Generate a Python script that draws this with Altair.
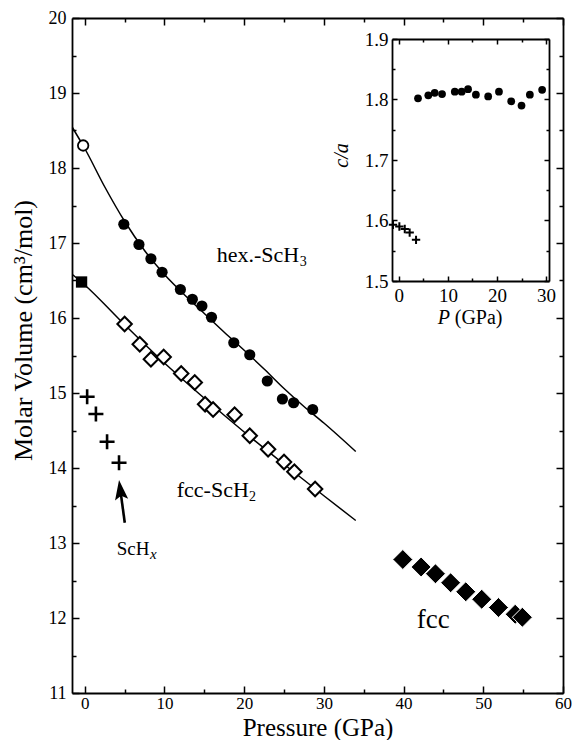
import altair as alt
import pandas as pd

SERIF = "Liberation Serif"

# ---------------- data ----------------
# hex.-ScH3 (filled circles) and its ambient-pressure point (open circle)
hex_p = [4.9, 6.8, 8.3, 9.7, 12.0, 13.5, 14.7, 15.9, 18.7, 20.7, 22.9, 24.8, 26.2, 28.6]
hex_v = [17.25, 16.98, 16.79, 16.61, 16.38, 16.25, 16.16, 16.01, 15.67, 15.51, 15.16, 14.92, 14.87, 14.78]
hex0_p = [-0.2]
hex0_v = [18.30]
# fcc-ScH2 (open diamonds) and its ambient point (filled square)
sch2_p = [5.0, 6.9, 8.3, 9.9, 12.1, 13.8, 15.1, 16.1, 18.8, 20.7, 23.0, 25.0, 26.3, 28.9]
sch2_v = [15.92, 15.65, 15.45, 15.48, 15.26, 15.14, 14.85, 14.78, 14.71, 14.43, 14.25, 14.08, 13.95, 13.72]
sch20_p = [-0.4]
sch20_v = [16.48]
# ScHx (pluses)
schx_p = [0.3, 1.4, 2.8, 4.3]
schx_v = [14.95, 14.72, 14.35, 14.07]
# fcc high-pressure phase (filled diamonds)
fcc_p = [39.9, 42.2, 44.0, 45.9, 47.8, 49.8, 51.9, 54.0, 54.9]
fcc_v = [12.78, 12.68, 12.59, 12.47, 12.35, 12.25, 12.14, 12.05, 12.01]
# fitted equation-of-state curves
hexfit_p = [-1.55, 0, 2.5, 5, 7.5, 10, 12.5, 15, 17.5, 20, 22.5, 25, 27.5, 30, 34.0]
hexfit_v = [18.54, 18.26, 17.75, 17.29, 16.90, 16.58, 16.31, 16.06, 15.81, 15.57, 15.32, 15.06, 14.82, 14.60, 14.22]
sch2fit_p = [-1.55, 0, 5, 10, 15, 20, 25, 30, 34.0]
sch2fit_v = [16.58, 16.44, 15.91, 15.40, 14.93, 14.48, 14.05, 13.63, 13.30]
# arrow pointing at the ScHx data (tail, head)
arrow_p = [5.02, 4.48]
arrow_v = [13.27, 13.695]

# inset: c/a ratio
ca_p = [3.9, 6.0, 7.3, 8.8, 11.4, 12.8, 14.1, 15.7, 18.2, 20.4, 22.9, 25.0, 26.7, 29.2]
ca_v = [1.802, 1.807, 1.811, 1.809, 1.813, 1.813, 1.817, 1.808, 1.805, 1.813, 1.797, 1.790, 1.808, 1.816]
cax_p = [-1.2, 0.1, 1.2, 2.2, 3.5]
cax_v = [1.593, 1.590, 1.586, 1.580, 1.568]

# tick values
main_x_major = [0, 10, 20, 30, 40, 50, 60]
main_x_minor = [5, 15, 25, 35, 45, 55]
main_y_major = [11, 12, 13, 14, 15, 16, 17, 18, 19, 20]
main_y_minor = [11.5, 12.5, 13.5, 14.5, 15.5, 16.5, 17.5, 18.5, 19.5]
ins_x_major = [0, 10, 20, 30]
ins_x_minor = [5, 15, 25]
ins_y_major = [1.5, 1.6, 1.7, 1.8, 1.9]
ins_y_minor = [1.55, 1.65, 1.75, 1.85]


def df(p, v):
    return pd.DataFrame({"p": p, "v": v})


W, H = 491, 675
IX0, IX1 = 320, 477     # inset horizontal extent (plot px)
IY0, IY1 = 21, 263      # inset vertical extent (plot px)


def axis(orient, values, labels=False, tick=0, offset=0, domain=False, title="", size=18, **kw):
    params = dict(orient=orient, values=values, labels=labels, ticks=tick > 0, offset=offset,
                  domain=domain, grid=False, title=title, domainColor="black", domainWidth=1.8,
                  tickColor="black", tickWidth=1.5, labelFont=SERIF, labelFontSize=size,
                  labelColor="black", labelFlush=False, labelOverlap=False)
    if tick > 0:
        params["tickSize"] = tick
    params.update(kw)
    return alt.Axis(**params)


def mx(ax=None):
    return alt.X("p:Q", scale=alt.Scale(domain=[-1.6, 60], nice=False, zero=False), axis=ax)


def my(ax=None):
    return alt.Y("v:Q", scale=alt.Scale(domain=[11, 20], nice=False, zero=False), axis=ax)


def ix(ax=None):
    return alt.X("p:Q", scale=alt.Scale(domain=[-1.4, 30.6], range=[IX0, IX1], nice=False, zero=False), axis=ax)


def iy(ax=None):
    return alt.Y("v:Q", scale=alt.Scale(domain=[1.5, 1.9], range=[IY1, IY0], nice=False, zero=False), axis=ax)


PLUS = "M-1,0L1,0M0,-1L0,1"
HEAD = "M0,-1L0.6,0.8L0,0.45L-0.6,0.8Z"

layers = []

# --- main panel -------------------------------------------------------
layers.append(
    alt.Chart(df(hexfit_p, hexfit_v)).mark_line(color="black", strokeWidth=1.5, interpolate="monotone").encode(
        x=mx(axis("bottom", main_x_major, labels=True, domain=True, labelPadding=2, size=17,
                  title="Pressure (GPa)", titleFont=SERIF, titleFontSize=25, titleFontWeight="normal",
                  titleColor="black", titleX=W / 2, titleY=42, titleBaseline="alphabetic", titleAlign="center")),
        y=my(axis("left", main_y_major, labels=True, domain=True, labelPadding=6,
                  title="Molar Volume (cm³/mol)", titleFont=SERIF, titleFontSize=26, titleFontWeight="normal",
                  titleColor="black", titleX=-40.5, titleY=312, titleAngle=270, titleBaseline="alphabetic",
                  titleAlign="center")),
    )
)
layers.append(
    alt.Chart(df(sch2fit_p, sch2fit_v)).mark_line(color="black", strokeWidth=1.5, interpolate="monotone").encode(
        x=mx(axis("top", main_x_major, tick=7, offset=-H)),
        y=my(axis("right", main_y_major, tick=7, offset=-W)),
    )
)
layers.append(
    alt.Chart(df(hex_p, hex_v)).mark_point(shape="circle", filled=True, color="black", opacity=1, size=125).encode(
        x=mx(axis("top", main_x_minor, tick=4, offset=-H)),
        y=my(axis("right", main_y_minor, tick=4, offset=-W)),
    )
)
layers.append(
    alt.Chart(df(sch2_p, sch2_v)).mark_point(shape="diamond", filled=True, fill="white", stroke="black",
                                             strokeWidth=2, opacity=1, size=210).encode(
        x=mx(axis("bottom", main_x_major, tick=7, offset=-H, domain=True)),
        y=my(axis("left", main_y_major, tick=7, offset=-W, domain=True)),
    )
)
layers.append(
    alt.Chart(df(schx_p, schx_v)).mark_point(shape=PLUS, filled=False, color="black", strokeWidth=2.6,
                                             opacity=1, size=225).encode(
        x=mx(axis("bottom", main_x_minor, tick=4, offset=-H)),
        y=my(axis("left", main_y_minor, tick=4, offset=-W)),
    )
)
layers.append(
    alt.Chart(df(hex0_p, hex0_v)).mark_point(shape="circle", filled=True, fill="white", stroke="black",
                                             strokeWidth=1.8, opacity=1, size=110).encode(x=mx(), y=my())
)
layers.append(
    alt.Chart(df(sch20_p, sch20_v)).mark_point(shape="square", filled=True, color="black", opacity=1,
                                               size=128).encode(x=mx(), y=my())
)
layers.append(
    alt.Chart(df(fcc_p, fcc_v)).mark_point(shape="diamond", filled=True, color="black", stroke="white",
                                           strokeWidth=1, opacity=1, size=400).encode(x=mx(), y=my())
)
layers.append(
    alt.Chart(df(arrow_p, arrow_v)).mark_line(color="black", strokeWidth=2.6).encode(x=mx(), y=my())
)
layers.append(
    alt.Chart(df(arrow_p[1:], arrow_v[1:])).mark_point(shape=HEAD, filled=True, color="black", opacity=1,
                                                       size=484, angle=352.5).encode(x=mx(), y=my())
)


def label(text, p, v, size, italic=False):
    d = pd.DataFrame({"p": [p], "v": [v], "t": [text]})
    props = dict(align="left", baseline="alphabetic", font=SERIF, fontSize=size, color="black")
    if italic:
        props["fontStyle"] = "italic"
    return alt.Chart(d).mark_text(**props).encode(x=mx(), y=my(), text="t:N")


layers += [
    label("hex.-ScH", 16.56, 16.747, 22),
    label("3", 26.98, 16.693, 14),
    label("fcc-ScH", 11.54, 13.613, 22),
    label("2", 20.62, 13.56, 14),
    label("ScH", 4.02, 12.84, 19),
    label("x", 8.2, 12.787, 15, italic=True),
    label("fcc", 41.66, 11.867, 27),
    label("P", 44.29, 15.92, 20, italic=True),
    label("(GPa)", 46.42, 15.92, 20),
]

# --- inset panel --------------------------------------------------------
layers.append(
    alt.Chart(df(ca_p, ca_v)).mark_point(shape="circle", filled=True, color="black", opacity=1, size=60).encode(
        x=ix(axis("bottom", ins_x_major, labels=True, domain=True, offset=IY1 - H, labelPadding=5, size=19)),
        y=iy(axis("left", ins_y_major, labels=True, domain=True, offset=-IX0, labelPadding=4, size=19,
                  title="c/a", titleFont=SERIF, titleFontSize=20, titleFontStyle="italic",
                  titleFontWeight="normal", titleColor="black", titleX=-45, titleY=137, titleAngle=270,
                  titleBaseline="alphabetic", titleAlign="center")),
    )
)
layers.append(
    alt.Chart(df(cax_p, cax_v)).mark_point(shape=PLUS, filled=False, color="black", strokeWidth=2,
                                           opacity=1, size=70).encode(
        x=ix(axis("top", ins_x_major, tick=5, offset=-IY1)),
        y=iy(axis("right", ins_y_major, tick=5, offset=IX0 - W)),
    )
)
layers.append(
    alt.Chart(df(ca_p, ca_v)).mark_point(opacity=0).encode(
        x=ix(axis("top", ins_x_minor, tick=3, offset=-IY1)),
        y=iy(axis("right", ins_y_minor, tick=3, offset=IX0 - W)),
    )
)
layers.append(
    alt.Chart(df(ca_p, ca_v)).mark_point(opacity=0).encode(
        x=ix(axis("bottom", ins_x_major, tick=5, offset=IY0 - H, domain=True)),
        y=iy(axis("left", ins_y_major, tick=5, offset=-IX1, domain=True)),
    )
)
layers.append(
    alt.Chart(df(ca_p, ca_v)).mark_point(opacity=0).encode(
        x=ix(axis("bottom", ins_x_minor, tick=3, offset=IY0 - H)),
        y=iy(axis("left", ins_y_minor, tick=3, offset=-IX1)),
    )
)

chart = (
    alt.layer(*layers)
    .resolve_scale(x="independent", y="independent")
    .properties(
        width=W,
        height=H,
        padding={"left": 72, "top": 18, "right": 10, "bottom": 47},
        autosize=alt.AutoSizeParams(type="none"),
        background="white",
    )
    .configure_view(strokeWidth=0)
)

chart.save("out.html", embed_options={"renderer": "svg", "actions": False})
